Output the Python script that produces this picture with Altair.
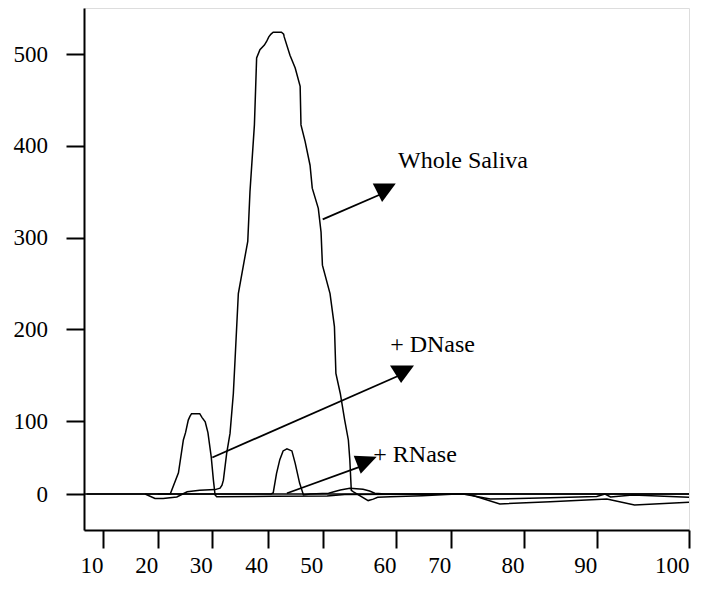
import altair as alt
import pandas as pd

# ---- axis ticks (the original axes are hand drawn, unevenly spaced) ----
x_ticks = [10, 20, 30, 40, 50, 60, 70, 80, 90, 100]
y_ticks = [0, 100, 200, 300, 400, 500]

# ---- series ----
ws_x = [17.7, 19.5, 21.0, 23.5, 25.4, 27.7, 30.5, 31.4, 31.75, 32.0, 32.6, 33.2, 33.8, 34.1,
        34.7, 35.8, 36.4, 36.8, 37.6, 37.8, 38.0, 38.6, 39.4, 39.8, 40.2, 40.6, 41.0, 42.5,
        42.9, 43.0, 44.05, 45.0, 45.9, 46.05, 46.8, 47.7, 48.1, 49.2, 49.7, 49.95, 51.0, 51.6,
        51.8, 52.4, 53.0, 53.5, 53.7, 53.9, 54.2, 56.2, 56.9, 57.5, 59.2, 64.8, 70.8, 71.7,
        75.4, 83.6, 90.0, 90.9, 91.5, 93.9, 100]
ws_y = [0, -6, -6, -4, 3, 5, 6, 8, 12, 19, 56, 83, 130, 166,
        239, 276, 296, 350, 423, 459, 496, 505, 510, 514, 519, 522, 524, 524,
        522, 519, 499, 485, 465, 423, 405, 379, 354, 332, 306, 270, 239, 203,
        152, 130, 101, 74, 47, 5, 3, -9, -7, -4.5, -3.7, -2.3, 0, 0,
        -7, -5, -3.5, 0, -4, -1.5, -4.5]

dn_x = [20.0, 22.3, 23.8, 24.7, 25.1, 25.6, 25.9, 26.2, 27.7, 28.1, 28.7, 29.2, 29.8, 30.2,
        30.5, 30.8, 41.0, 50.6, 53.0, 71.3, 72.6, 76.7, 83.6, 90.0, 91.1, 94.1, 100]
dn_y = [0, 0, 29, 74, 84, 101, 105, 108, 108, 104, 99, 84, 51, 19,
        -1.4, -3.7, -3.2, -2.7, -0.7, 0, -0.7, -13.7, -10.5, -7.5, -6.8, -15, -11.4]

rn_x = [7, 40.6, 41.0, 41.6, 42.2, 42.8, 43.5, 44.4, 45.0, 45.8, 46.5, 47.7, 50.8, 52.4,
        53.7, 55.5, 56.4, 57.1, 58.5, 100]
rn_y = [0, 0, 1.4, 28, 47, 59, 62, 59, 42, 15, -1.4, 0, 1, 5.5,
        8, 6.5, 4, 1, 0, 0]

# ---- annotations ----
labels = ["Whole Saliva", "+ DNase", "+ RNase"]
label_x = [60.37, 59.2, 56.9]
label_y = [376, 175, 44]
arrow_x0 = [50.0, 30.0, 43.5]
arrow_y0 = [320, 50, 1]
arrow_x1 = [58.4, 61.1, 55.8]
arrow_y1 = [349, 151, 40]
head_paths = ["M-1,-0.8L1,-0.8L-0.19,0.8Z",
              "M-1,-0.725L1,-0.725L-0.08,0.725Z",
              "M-1,-0.78L1,-0.7L-0.39,0.78Z"]
head_size = [529, 576, 529]

rows = []
for name, xs, ys in [("Whole Saliva", ws_x, ws_y), ("+ DNase", dn_x, dn_y), ("+ RNase", rn_x, rn_y)]:
    for i, (a, b) in enumerate(zip(xs, ys)):
        rows.append({"series": name, "i": i, "x": a, "y": b})
df = pd.DataFrame(rows)

FONT = "Liberation Serif"
x_scale = alt.Scale(domain=[6.53] + x_ticks,
                    range=[0, 19, 73.7, 128.3, 183.7, 238.7, 312, 366.7, 440, 512.7, 605],
                    nice=False, zero=False)
y_scale = alt.Scale(domain=[-49.3, 0, 100, 550.5], range=[522, 486, 413, 0], nice=False, zero=False)

x_axis = alt.Axis(values=x_ticks, title=None, grid=False, domainColor="black", domainWidth=2,
                  tickColor="black", tickWidth=2, tickSize=18, labelFont=FONT, labelFontSize=23,
                  labelColor="black", labelAlign="right", labelPadding=6, labelFlush=False,
                  labelOverlap=False)
y_axis = alt.Axis(values=y_ticks, title=None, grid=False, domainColor="black", domainWidth=2,
                  tickColor="black", tickWidth=2, tickSize=18, labelFont=FONT, labelFontSize=23,
                  labelColor="black", labelPadding=18.5, labelFlush=False, labelOverlap=False,
                  labelBaseline="middle")


def X(field="x"):
    return alt.X(f"{field}:Q", scale=x_scale, axis=x_axis)


def Y(field="y"):
    return alt.Y(f"{field}:Q", scale=y_scale, axis=y_axis)


zero = alt.Chart(pd.DataFrame({"x": [6.53], "x2": [100], "y": [0]})).mark_rule(
    color="black", strokeWidth=1.5).encode(x=X(), x2="x2:Q", y=Y())

lines = alt.Chart(df).mark_line(color="black", strokeWidth=1.5).encode(
    x=X(), y=Y(), detail="series:N", order="i:Q")

arr_df = pd.DataFrame({"x": arrow_x0, "y": arrow_y0, "x2": arrow_x1, "y2": arrow_y1})
arrows = alt.Chart(arr_df).mark_rule(color="black", strokeWidth=1.8).encode(
    x=X(), y=Y(), x2="x2:Q", y2="y2:Q")

heads = []
for k in range(3):
    h = alt.Chart(pd.DataFrame({"x": [arrow_x1[k]], "y": [arrow_y1[k]]})).mark_point(
        shape=head_paths[k], filled=True, size=head_size[k], color="black", opacity=1,
        strokeWidth=0).encode(x=X(), y=Y())
    heads.append(h)

txt = alt.Chart(pd.DataFrame({"x": label_x, "y": label_y, "t": labels})).mark_text(
    align="left", baseline="alphabetic", font=FONT, fontSize=24, color="black").encode(
    x=X(), y=Y(), text="t:N")

chart = alt.layer(zero, lines, arrows, *heads, txt).properties(
    width=605, height=522,
    autosize=alt.AutoSizeParams(type="none"),
    padding={"left": 76, "top": 0, "right": 16, "bottom": 54},
).configure_view(stroke=None).configure(background="white")

chart.save("out.html", embed_options={"renderer": "svg", "actions": False})
